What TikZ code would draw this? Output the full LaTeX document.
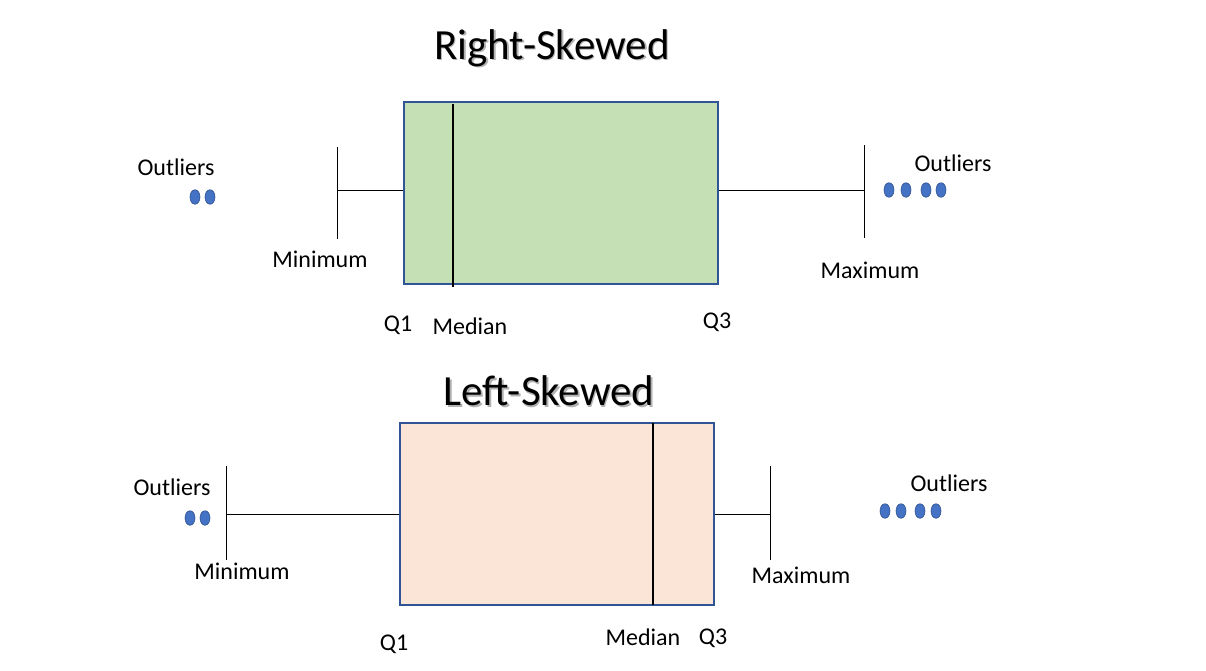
\documentclass[tikz,border=0pt]{standalone}
\usepackage{fontspec}
\setmainfont{Carlito}
\definecolor{boxedge}{HTML}{2F5597}
\definecolor{greenfill}{HTML}{C5E0B4}
\definecolor{peachfill}{HTML}{FBE5D6}
\definecolor{dotfill}{HTML}{4472C4}
\definecolor{dotedge}{HTML}{2F528F}
\tikzset{
  lbl/.style={inner sep=0pt, font=\fontsize{24}{28}\selectfont},
  ttl/.style={inner sep=0pt, font=\fontsize{43}{50}\selectfont},
  ttlshadow/.style={ttl, text=black!30},
  whisk/.style={line width=0.9pt, black},
  medline/.style={line width=1.2pt, black},
  boxstyle/.style={draw=boxedge, line width=1.1pt, inner sep=0pt, minimum width=314pt, minimum height=182pt},
  dot/.style={draw=dotedge, fill=dotfill, line width=0.6pt, circle, inner sep=0pt, minimum size=10pt, yscale=1.45}
}
\begin{document}
\begin{tikzpicture}[x=1pt,y=-1pt]
\useasboundingbox (0,0) rectangle (1206,670);
% ---------- Right-skewed ----------
\node[ttlshadow] (t1s) at (553.5,49.5) {Right-Skewed};
\node[ttl] (t1) at (552,48) {Right-Skewed};
\node[boxstyle, fill=greenfill] (box1) at (561,193) {};
\coordinate (m1a) at (453,104);
\coordinate (m1b) at (453,287);
\draw[medline] (m1a) -- (m1b);
\coordinate (min1) at (337,190);
\coordinate (min1t) at (337,147);
\coordinate (min1b) at (337,239);
\coordinate (max1) at (864,190);
\coordinate (max1t) at (864,145);
\coordinate (max1b) at (864,238);
\draw[whisk] (min1t) -- (min1b);
\draw[whisk] (max1t) -- (max1b);
\draw[whisk] (min1) -- (box1.west |- min1);
\draw[whisk] (box1.east |- max1) -- (max1);
\node[dot] (o1a) at (195,197) {};
\node[dot] (o1b) at (210,197) {};
\node[dot] (o1c) at (889,190) {};
\node[dot] (o1d) at (906,190) {};
\node[dot] (o1e) at (926,190) {};
\node[dot] (o1f) at (941,190) {};
\node[lbl] (l1a) at (176,167) {Outliers};
\node[lbl] (l1b) at (320,259) {Minimum};
\node[lbl] (l1c) at (398,325) {Q1};
\node[lbl] (l1d) at (470,326) {Median};
\node[lbl] (l1e) at (717,322) {Q3};
\node[lbl] (l1f) at (953,163) {Outliers};
\node[lbl] (l1g) at (870,270) {Maximum};
% ---------- Left-skewed ----------
\node[ttlshadow] (t2s) at (550.5,392.5) {Left-Skewed};
\node[ttl] (t2) at (549,391) {Left-Skewed};
\node[boxstyle, fill=peachfill] (box2) at (557,514) {};
\coordinate (m2a) at (653,423);
\coordinate (m2b) at (653,605);
\draw[medline] (m2a) -- (m2b);
\coordinate (min2) at (226,514);
\coordinate (min2t) at (226,466);
\coordinate (min2b) at (226,560);
\coordinate (max2) at (770,514);
\coordinate (max2t) at (770,466);
\coordinate (max2b) at (770,560);
\draw[whisk] (min2t) -- (min2b);
\draw[whisk] (max2t) -- (max2b);
\draw[whisk] (min2) -- (box2.west |- min2);
\draw[whisk] (box2.east |- max2) -- (max2);
\node[dot] (o2a) at (190,518) {};
\node[dot] (o2b) at (205,518) {};
\node[dot] (o2c) at (885,511) {};
\node[dot] (o2d) at (901,511) {};
\node[dot] (o2e) at (920,511) {};
\node[dot] (o2f) at (936,511) {};
\node[lbl] (l2a) at (172,487) {Outliers};
\node[lbl] (l2b) at (242,571) {Minimum};
\node[lbl] (l2c) at (394,644) {Q1};
\node[lbl] (l2d) at (643,637) {Median};
\node[lbl] (l2e) at (713,638) {Q3};
\node[lbl] (l2f) at (949,483) {Outliers};
\node[lbl] (l2g) at (801,575) {Maximum};
\end{tikzpicture}
\end{document}
